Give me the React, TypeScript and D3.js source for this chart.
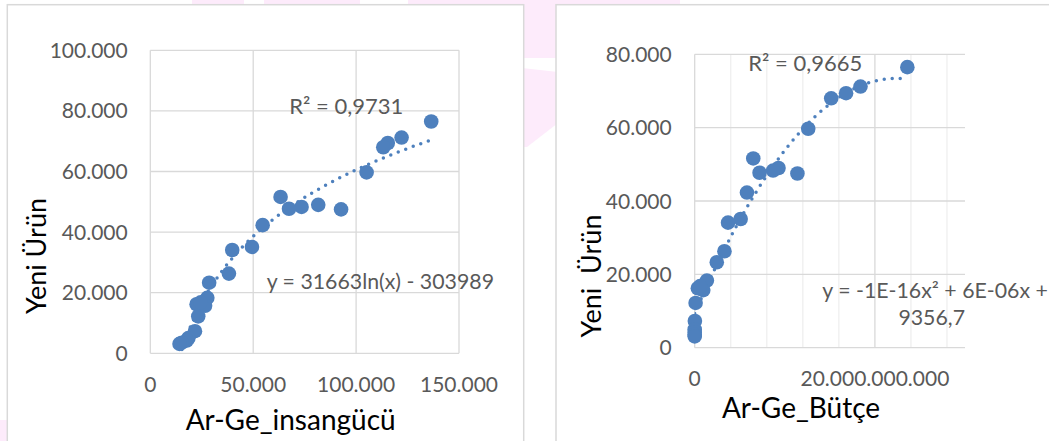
import React from "react";
import * as d3 from "d3";

// ---- Data ----
const yeniUrun = [76500, 71200, 69400, 68000, 59700, 47500, 49000, 48300, 47700, 51600, 42300, 35100, 34100, 26300, 23300, 18300, 15700, 16200, 16800, 12200, 7300, 5000, 4200, 3500, 3100];
const argeInsangucu = [136500, 122100, 115400, 113200, 105100, 92700, 81600, 73500, 67400, 63300, 54600, 49400, 39800, 38200, 28600, 27700, 26600, 22500, 24500, 23300, 21700, 18500, 17700, 15300, 14200];
const argeButce = [23.6e9, 18.4e9, 16.8e9, 15.15e9, 12.6e9, 11.4e9, 9.3e9, 8.7e9, 7.2e9, 6.5e9, 5.8e9, 5.1e9, 3.7e9, 3.3e9, 2.45e9, 1.35e9, 0.95e9, 0.35e9, 0.6e9, 0.1e9, 0.02e9, 0.0, 0.0, 0.0, 0.0];

const leftXTicks = [0, 50000, 100000, 150000];
const leftYTicks = [0, 20000, 40000, 60000, 80000, 100000];
const rightXTicks = [0, 20e9];
const rightXMinor = [4e9, 8e9, 12e9, 16e9, 24e9, 28e9];
const rightYTicks = [0, 20000, 40000, 60000, 80000];

// trendline coefficients
const logA = 31663, logB = -303989;
const polyA = -1.28e-16, polyB = 5.727e-6, polyC = 9356.7;

const leftR2 = "R² = 0,9731";
const leftEq = "y = 31663ln(x) - 303989";
const rightR2 = "R² = 0,9665";
const rightEq1 = "y = -1E-16x² + 6E-06x +";
const rightEq2 = "9356,7";

const fmt = (v: number) => (v === 0 ? "0" : d3.format(",")(v).replace(/,/g, "."));

const BLUE = "#4e80bd";
const GRID = "#d9d9d9";
const MINOR = "#efefef";
const TICK = "#595959";
const FONT = "Lato, 'Liberation Sans', sans-serif";
const PINK = "#fdebfb";

export default function App() {
  // left chart scales
  const lx = d3.scaleLinear().domain([0, 150000]).range([150.3, 459]);
  const ly = d3.scaleLinear().domain([0, 100000]).range([353.3, 50.3]);
  // right chart scales
  const rx = d3.scaleLinear().domain([0, 30e9]).range([694.7, 965]);
  const ry = d3.scaleLinear().domain([0, 80000]).range([347.7, 54.3]);

  const lMin = d3.min(argeInsangucu)!, lMax = d3.max(argeInsangucu)!;
  const lTrend = d3.range(0, 201).map((i) => {
    const x = lMin + ((lMax - lMin) * i) / 200;
    return [x, logA * Math.log(x) + logB] as [number, number];
  });
  const rMin = d3.min(argeButce)!, rMax = d3.max(argeButce)!;
  const rTrend = d3.range(0, 201).map((i) => {
    const x = rMin + ((rMax - rMin) * i) / 200;
    return [x, polyA * x * x + polyB * x + polyC] as [number, number];
  });

  const lLine = d3.line<[number, number]>().x((d) => lx(d[0])).y((d) => ly(d[1]));
  const rLine = d3.line<[number, number]>().x((d) => rx(d[0])).y((d) => ry(d[1]));

  const [lx0, lx1] = lx.range();
  const [ly0, ly1] = ly.range();
  const [rx0, rx1] = rx.range();
  const [ry0, ry1] = ry.range();

  return (
    <svg width={1049} height={441} style={{ position: "absolute", left: 0, top: 0, background: "#fff" }} fontFamily={FONT}>
      <defs>
        <clipPath id="lclip">
          <rect x={lx0} y={ly1 - 10} width={lx1 - lx0} height={ly0 - ly1 + 10} />
        </clipPath>
        <clipPath id="rclip">
          <rect x={rx0} y={ry1 - 20} width={rx1 - rx0} height={ry0 - ry1 + 20} />
        </clipPath>
      </defs>
      {/* pink watermark background */}
      <rect x={192} y={0} width={52} height={6} fill={PINK} />
      <rect x={264} y={0} width={96} height={6} fill={PINK} />
      <rect x={408} y={0} width={272} height={6} fill={PINK} />
      <rect x={522} y={0} width={36} height={58} fill={PINK} />
      <polygon points="522,68 558,72 558,123 527,147 522,147" fill={PINK} />
      <rect x={0} y={420} width={8} height={21} fill={PINK} />

      {/* panels */}
      <rect x={7.3} y={4.7} width={516.4} height={460} fill="#fff" stroke={GRID} strokeWidth={1.5} />
      <rect x={556} y={4.7} width={520} height={460} fill="#fff" stroke={GRID} strokeWidth={1.5} />

      {/* ---------- LEFT CHART ---------- */}
      <g>
        {leftYTicks.map((t) => (
          <line key={"lyg" + t} x1={lx0} x2={lx1} y1={ly(t)} y2={ly(t)} stroke={GRID} strokeWidth={1.3} />
        ))}
        {leftXTicks.map((t) => (
          <line key={"lxg" + t} x1={lx(t)} x2={lx(t)} y1={ly0} y2={ly1} stroke={GRID} strokeWidth={1.3} />
        ))}
        {leftYTicks.map((t) => (
          <text key={"lyt" + t} x={127.7} y={ly(t) + 7.5} textAnchor="end" fontSize={21} fill={TICK}>
            {fmt(t)}
          </text>
        ))}
        {leftXTicks.map((t) => (
          <text key={"lxt" + t} x={lx(t)} y={391.7} textAnchor="middle" fontSize={21} fill={TICK}>
            {fmt(t)}
          </text>
        ))}
        <path d={lLine(lTrend)!} fill="none" stroke={BLUE} strokeWidth={3.5} strokeDasharray="0 8" strokeLinecap="round" clipPath="url(#lclip)" />
        {argeInsangucu.map((x, i) => (
          <circle key={"lp" + i} cx={lx(x)} cy={ly(yeniUrun[i])} r={7.3} fill={BLUE} />
        ))}
        <text x={289.3} y={114} fontSize={22} fill={TICK}>{leftR2}</text>
        <text x={266.7} y={289.3} fontSize={21.3} fill={TICK}>{leftEq}</text>
        <text x={290.7} y={430} textAnchor="middle" fontSize={28} fill="#000">Ar-Ge_insangücü</text>
        <text transform={`translate(45.5,256) rotate(-90)`} textAnchor="middle" fontSize={27} fill="#000">Yeni Ürün</text>
      </g>

      {/* ---------- RIGHT CHART ---------- */}
      <g>
        {rightXMinor.map((t) => (
          <line key={"rxm" + t} x1={rx(t)} x2={rx(t)} y1={ry0} y2={ry1} stroke={MINOR} strokeWidth={1.3} />
        ))}
        {rightYTicks.map((t) => (
          <line key={"ryg" + t} x1={rx0} x2={rx1} y1={ry(t)} y2={ry(t)} stroke={GRID} strokeWidth={1.3} />
        ))}
        {rightXTicks.map((t) => (
          <line key={"rxg" + t} x1={rx(t)} x2={rx(t)} y1={ry0} y2={ry1} stroke={GRID} strokeWidth={1.3} />
        ))}
        {rightYTicks.map((t) => (
          <text key={"ryt" + t} x={671.7} y={ry(t) + 7.5} textAnchor="end" fontSize={21} fill={TICK}>
            {fmt(t)}
          </text>
        ))}
        {rightXTicks.map((t) => (
          <text key={"rxt" + t} x={rx(t)} y={386} textAnchor="middle" fontSize={21} fill={TICK}>
            {fmt(t)}
          </text>
        ))}
        <path d={rLine(rTrend)!} fill="none" stroke={BLUE} strokeWidth={3.5} strokeDasharray="0 8" strokeLinecap="round" clipPath="url(#rclip)" />
        {argeButce.map((x, i) => (
          <circle key={"rp" + i} cx={rx(x)} cy={ry(yeniUrun[i])} r={7.3} fill={BLUE} />
        ))}
        <text x={748.3} y={70.7} fontSize={22} fill={TICK}>{rightR2}</text>
        <text x={822.3} y={297.7} fontSize={21.3} fill={TICK}>{rightEq1}</text>
        <text x={965} y={325} textAnchor="end" fontSize={21.3} fill={TICK}>{rightEq2}</text>
        <text x={801} y={418.3} textAnchor="middle" fontSize={28} fill="#000">Ar-Ge_Bütçe</text>
        <text transform={`translate(601,276) rotate(-90)`} textAnchor="middle" fontSize={27} fill="#000" style={{ whiteSpace: "pre" }}>Yeni  Ürün</text>
      </g>
    </svg>
  );
}
